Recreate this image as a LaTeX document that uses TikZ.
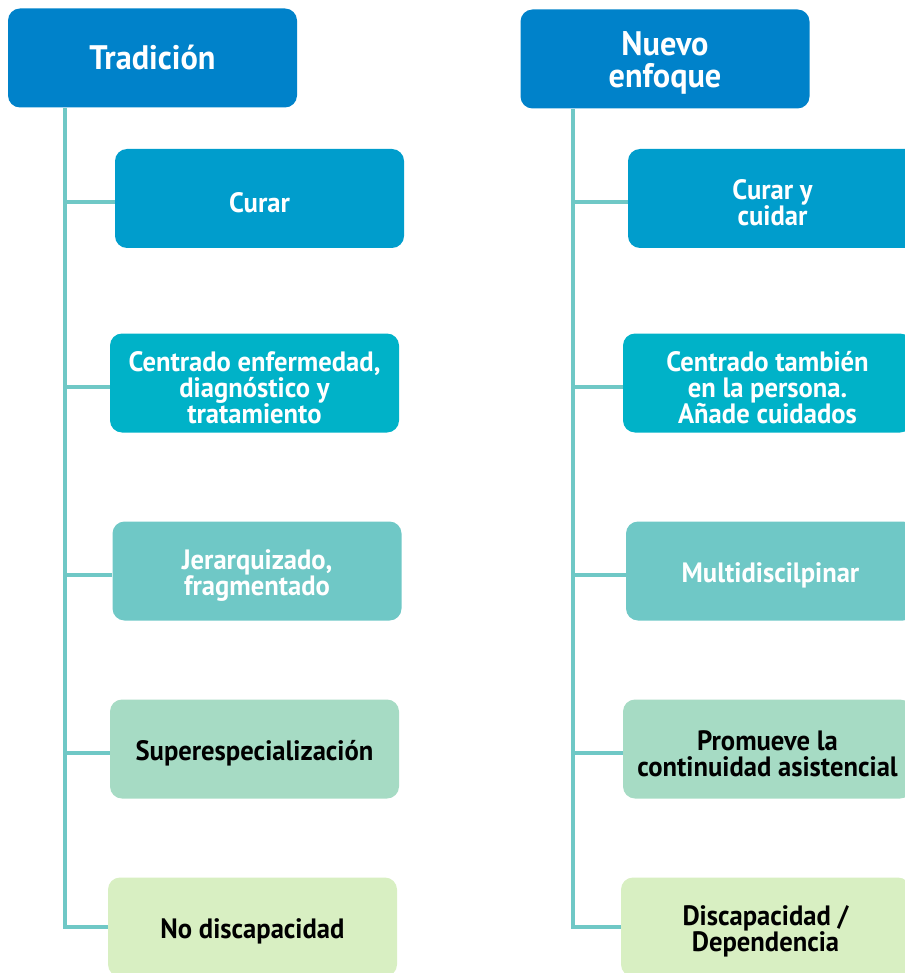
\documentclass[tikz,border=0pt]{standalone}
\usepackage{fontspec}
\setmainfont{PT Sans}[FakeStretch=0.95]
\usetikzlibrary{positioning}
\definecolor{cHead}{HTML}{0082CA}
\definecolor{cA}{HTML}{009DCC}
\definecolor{cB}{HTML}{00B2C8}
\definecolor{cC}{HTML}{6FC8C6}
\definecolor{cD}{HTML}{A6DBC4}
\definecolor{cE}{HTML}{D8EFC2}
\definecolor{cLine}{HTML}{6FC8C6}
\newcommand{\lift}[1][29pt]{\rule{0pt}{#1}}
\tikzstyle{box}=[rounded corners=12pt, minimum width=289pt, minimum height=99pt,
		inner sep=0pt, align=center, font=\bfseries\fontsize{28}{26}\selectfont]
\tikzstyle{head}=[box, fill=cHead, text=white, font=\bfseries\fontsize{34}{32}\selectfont]
\tikzstyle{lvA}=[box, fill=cA, text=white]
\tikzstyle{lvB}=[box, fill=cB, text=white]
\tikzstyle{lvC}=[box, fill=cC, text=white]
\tikzstyle{lvD}=[box, fill=cD, text=black]
\tikzstyle{lvE}=[box, fill=cE, text=black]
\tikzstyle{trunk}=[draw=cLine, line width=4pt]

\begin{document}
\begin{tikzpicture}[x=1pt,y=-1pt]
    \useasboundingbox (0,0) rectangle (904,973);
    % column: tradicion
    \node[head] (trad) at (152.5,58) {Tradición};
    \node[lvA] (t1) at (259.5,198.5) {\lift Curar};
    \node[lvB] (t2) at (254.5,383) {\lift Centrado enfermedad,\\diagnóstico y\\tratamiento};
    \node[lvC] (t3) at (257,571) {\lift Jerarquizado,\\fragmentado};
    \node[lvD] (t4) at (254.5,749) {\lift Superespecialización};
    \node[lvE] (t5) at (252.5,927) {\lift No discapacidad};
    % column: nuevo enfoque
    \node[head] (nuevo) at (665,59) {\lift[32pt]Nuevo\\enfoque};
    \node[lvA] (n1) at (772.5,198.5) {\lift Curar y\\cuidar};
    \node[lvB] (n2) at (767.5,383) {\lift Centrado también\\en la persona.\\Añade cuidados};
    \node[lvC] (n3) at (770.5,571) {\lift Multidiscilpinar};
    \node[lvD] (n4) at (767.5,749) {\lift Promueve la\\continuidad asistencial};
    \node[lvE] (n5) at (765.5,927) {\lift Discapacidad /\\Dependencia};
    % trunks
    \coordinate (tend) at (65,927);
    \coordinate (nend) at (573,927);
    \draw[trunk] (tend |- trad.south) -- (tend) -- (t5.west);
    \draw[trunk] (nend |- nuevo.south) -- (nend) -- (n5.west);
    \foreach \i in {1,...,4} {
        \draw[trunk] ([yshift=-4pt]tend |- t\i.west) -- ([yshift=-4pt]t\i.west);
        \draw[trunk] ([yshift=-4pt]nend |- n\i.west) -- ([yshift=-4pt]n\i.west);
    }
\end{tikzpicture}
\end{document}
